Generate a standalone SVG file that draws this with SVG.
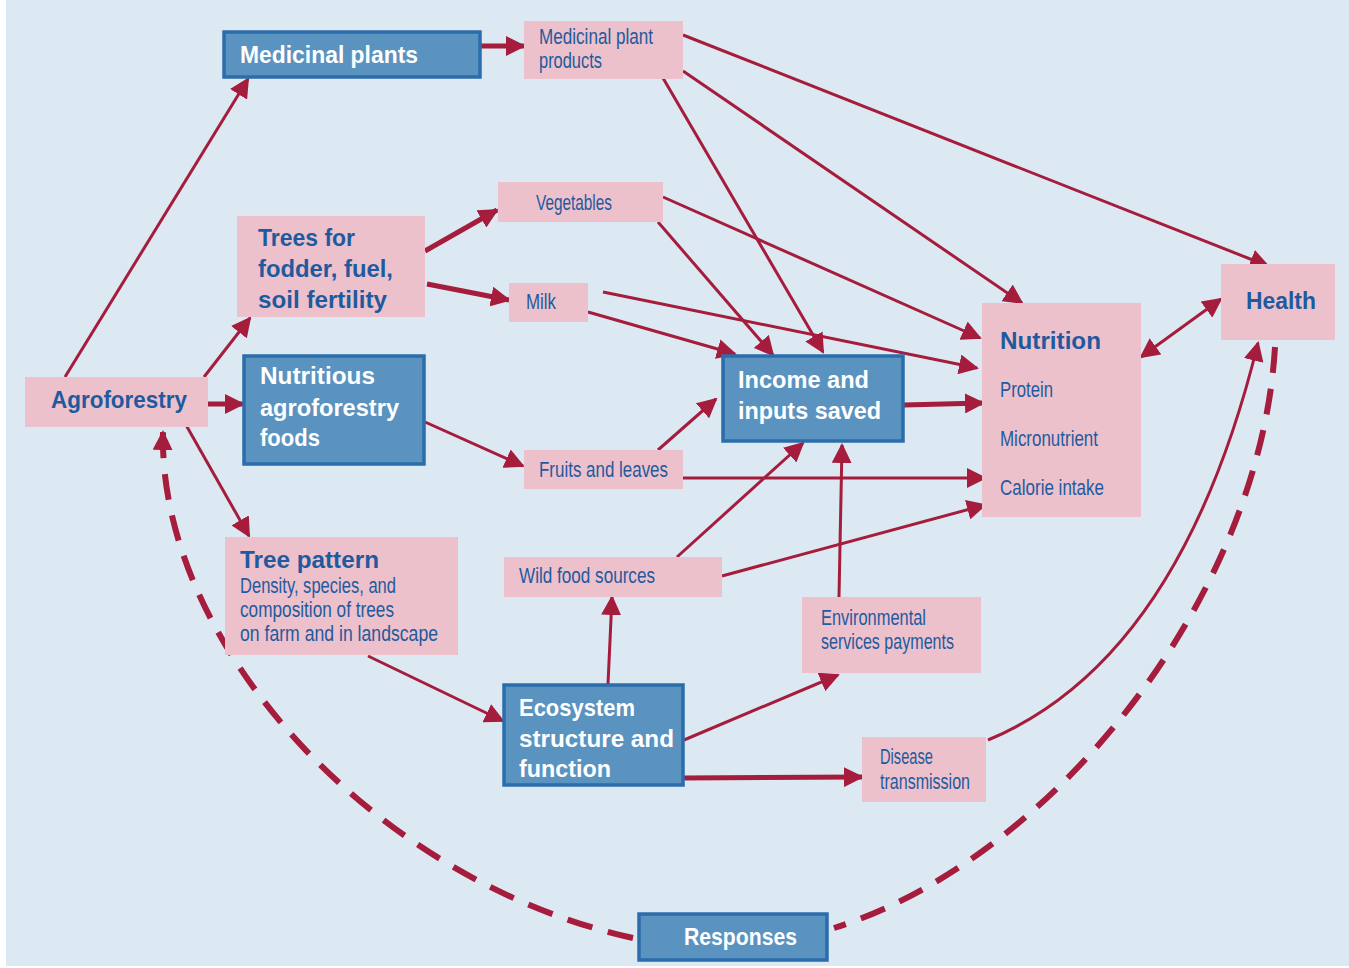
<svg xmlns="http://www.w3.org/2000/svg" width="1349" height="968" viewBox="0 0 1349 968">
<style>
.pk{fill:#ecc1cc}
.bl{fill:#5a93c0;stroke:#2b6cab;stroke-width:3.5}
.tb{font-family:"Liberation Sans",Arial,sans-serif;font-weight:bold;font-size:24px;fill:#1f5a9e}
.tw{font-family:"Liberation Sans",Arial,sans-serif;font-weight:bold;font-size:24px;fill:#ffffff}
.tn{font-family:"Liberation Sans",Arial,sans-serif;font-size:22.5px;fill:#1f5a9e}
.c{fill:none;stroke:#a51c3c;stroke-width:3;marker-end:url(#ah)}
.ct{stroke-width:5}
.d{fill:none;stroke:#a51c3c;stroke-width:6;stroke-dasharray:26 16}
</style>
<defs>
<marker id="ah" viewBox="0 0 20 20" refX="18" refY="10" markerWidth="20" markerHeight="20" markerUnits="userSpaceOnUse" orient="auto-start-reverse">
<path d="M0,0 L20,10 L0,20 z" fill="#a51c3c"/>
</marker>
</defs>
<rect x="0" y="0" width="1349" height="968" fill="#ffffff"/>
<rect x="6" y="0" width="1343" height="966" fill="#dce9f3"/>

<g id="connectors">
<path class="c" d="M65,377 L248,79"/>
<path class="c ct" d="M481,46 L524,46"/>
<path class="c" d="M204,377 L250,318"/>
<path class="c ct" d="M208,404 L243,404"/>
<path class="c" d="M186,425 L249,536"/>
<path class="c ct" d="M425,251 L497,210"/>
<path class="c ct" d="M427,284 L509,300"/>
<path class="c" d="M683,35 L1268,266"/>
<path class="c" d="M683,71 L1022,303"/>
<path class="c" d="M663,78 L823,352"/>
<path class="c" d="M663,197 L980,338"/>
<path class="c" d="M658,222 L773,355"/>
<path class="c" d="M603,292 L977,368"/>
<path class="c" d="M588,312 L735,354"/>
<path class="c" d="M425,422 L523,466"/>
<path class="c" d="M658,450 L716,399"/>
<path class="c" d="M683,478 L985,478"/>
<path class="c" d="M677,557 L803,443"/>
<path class="c" d="M722,576 L985,505"/>
<path class="c ct" d="M904,405 L983,403"/>
<path class="c" d="M839,597 L842,445"/>
<path class="c" d="M608,684 L612,597"/>
<path class="c" d="M684,740 L838,675"/>
<path class="c ct" d="M684,778 L862,777"/>
<path class="c" d="M368,656 L503,721"/>
<path class="c" d="M988,740 Q1180,660 1258,343"/>
<path class="c" style="marker-start:url(#ah)" d="M1141,357 L1221,299"/>
<path class="d" style="marker-end:url(#ah)" d="M633,938 C370,880 158,640 163,432"/>
<path class="d" d="M1275,347 C1260,600 1050,860 834,928"/>
</g>

<g id="medicinal-plants">
<rect class="bl" x="224" y="32" width="256" height="45"/>
<text class="tw" x="240" y="63" textLength="178" lengthAdjust="spacingAndGlyphs">Medicinal plants</text>
</g>
<g id="medicinal-plant-products">
<rect class="pk" x="524" y="21" width="159" height="58"/>
<text class="tn" x="539" y="44" textLength="114" lengthAdjust="spacingAndGlyphs">Medicinal plant</text>
<text class="tn" x="539" y="68" textLength="63" lengthAdjust="spacingAndGlyphs">products</text>
</g>
<g id="vegetables">
<rect class="pk" x="498" y="182" width="165" height="40"/>
<text class="tn" x="536" y="210" textLength="76" lengthAdjust="spacingAndGlyphs">Vegetables</text>
</g>
<g id="trees">
<rect class="pk" x="237" y="216" width="188" height="101"/>
<text class="tb" x="258" y="246" textLength="97" lengthAdjust="spacingAndGlyphs">Trees for</text>
<text class="tb" x="258" y="277" textLength="135" lengthAdjust="spacingAndGlyphs">fodder, fuel,</text>
<text class="tb" x="258" y="308" textLength="129" lengthAdjust="spacingAndGlyphs">soil fertility</text>
</g>
<g id="milk">
<rect class="pk" x="509" y="283" width="79" height="39"/>
<text class="tn" x="526" y="309" textLength="30" lengthAdjust="spacingAndGlyphs">Milk</text>
</g>
<g id="agroforestry">
<rect class="pk" x="25" y="377" width="183" height="50"/>
<text class="tb" x="51" y="408" textLength="136" lengthAdjust="spacingAndGlyphs">Agroforestry</text>
</g>
<g id="nutritious-foods">
<rect class="bl" x="244" y="356" width="180" height="108"/>
<text class="tw" x="260" y="384" textLength="115" lengthAdjust="spacingAndGlyphs">Nutritious</text>
<text class="tw" x="260" y="416" textLength="139" lengthAdjust="spacingAndGlyphs">agroforestry</text>
<text class="tw" x="260" y="446" textLength="60" lengthAdjust="spacingAndGlyphs">foods</text>
</g>
<g id="fruits">
<rect class="pk" x="524" y="450" width="159" height="39"/>
<text class="tn" x="539" y="477" textLength="129" lengthAdjust="spacingAndGlyphs">Fruits and leaves</text>
</g>
<g id="income">
<rect class="bl" x="723" y="356" width="180" height="85"/>
<text class="tw" x="738" y="388" textLength="131" lengthAdjust="spacingAndGlyphs">Income and</text>
<text class="tw" x="738" y="419" textLength="143" lengthAdjust="spacingAndGlyphs">inputs saved</text>
</g>
<g id="nutrition">
<rect class="pk" x="982" y="303" width="159" height="214"/>
<text class="tb" x="1000" y="349" textLength="101" lengthAdjust="spacingAndGlyphs">Nutrition</text>
<text class="tn" x="1000" y="397" textLength="53" lengthAdjust="spacingAndGlyphs">Protein</text>
<text class="tn" x="1000" y="446" textLength="98" lengthAdjust="spacingAndGlyphs">Micronutrient</text>
<text class="tn" x="1000" y="495" textLength="104" lengthAdjust="spacingAndGlyphs">Calorie intake</text>
</g>
<g id="health">
<rect class="pk" x="1221" y="264" width="114" height="76"/>
<text class="tb" x="1246" y="309" textLength="70" lengthAdjust="spacingAndGlyphs">Health</text>
</g>
<g id="tree-pattern">
<rect class="pk" x="225" y="537" width="233" height="118"/>
<text class="tb" x="240" y="568" textLength="139" lengthAdjust="spacingAndGlyphs">Tree pattern</text>
<text class="tn" x="240" y="593" textLength="156" lengthAdjust="spacingAndGlyphs">Density, species, and</text>
<text class="tn" x="240" y="617" textLength="154" lengthAdjust="spacingAndGlyphs">composition of trees</text>
<text class="tn" x="240" y="641" textLength="198" lengthAdjust="spacingAndGlyphs">on farm and in landscape</text>
</g>
<g id="wild-food">
<rect class="pk" x="504" y="557" width="218" height="40"/>
<text class="tn" x="519" y="583" textLength="136" lengthAdjust="spacingAndGlyphs">Wild food sources</text>
</g>
<g id="env-services">
<rect class="pk" x="802" y="597" width="179" height="76"/>
<text class="tn" x="821" y="625" textLength="105" lengthAdjust="spacingAndGlyphs">Environmental</text>
<text class="tn" x="821" y="649" textLength="133" lengthAdjust="spacingAndGlyphs">services payments</text>
</g>
<g id="ecosystem">
<rect class="bl" x="504" y="685" width="179" height="100"/>
<text class="tw" x="519" y="716" textLength="116" lengthAdjust="spacingAndGlyphs">Ecosystem</text>
<text class="tw" x="519" y="747" textLength="155" lengthAdjust="spacingAndGlyphs">structure and</text>
<text class="tw" x="519" y="777" textLength="92" lengthAdjust="spacingAndGlyphs">function</text>
</g>
<g id="disease">
<rect class="pk" x="862" y="737" width="124" height="65"/>
<text class="tn" x="880" y="764" textLength="53" lengthAdjust="spacingAndGlyphs">Disease</text>
<text class="tn" x="880" y="789" textLength="90" lengthAdjust="spacingAndGlyphs">transmission</text>
</g>
<g id="responses">
<rect class="bl" x="639" y="914" width="188" height="46"/>
<text class="tw" x="684" y="945" textLength="113" lengthAdjust="spacingAndGlyphs">Responses</text>
</g>
</svg>
